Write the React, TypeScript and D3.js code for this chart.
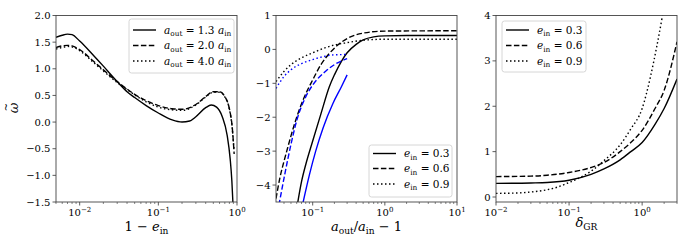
import React from "react";
import * as d3 from "d3";

// ---- panel 1: omega tilde vs 1 - e_in ----
const p1SolidX = [0.005, 0.006, 0.007, 0.008, 0.01, 0.015, 0.02, 0.03, 0.04, 0.05, 0.07, 0.1, 0.15, 0.2, 0.25, 0.3, 0.4, 0.47, 0.55, 0.65, 0.75, 0.82, 0.86, 0.89];
const p1SolidY = [1.59, 1.63, 1.65, 1.64, 1.52, 1.25, 1.05, 0.76, 0.57, 0.46, 0.31, 0.17, 0.04, 0.0, 0.02, 0.1, 0.27, 0.32, 0.28, 0.1, -0.25, -0.7, -1.1, -1.55];
const p1DashX = [0.005, 0.006, 0.007, 0.008, 0.01, 0.015, 0.02, 0.03, 0.04, 0.05, 0.07, 0.1, 0.15, 0.2, 0.3, 0.4, 0.5, 0.6, 0.7, 0.8, 0.87, 0.92];
const p1DashY = [1.4, 1.43, 1.44, 1.43, 1.36, 1.14, 0.98, 0.76, 0.62, 0.52, 0.4, 0.31, 0.25, 0.24, 0.33, 0.48, 0.57, 0.57, 0.48, 0.25, -0.1, -0.6];
const p1DotY = [1.37, 1.4, 1.42, 1.41, 1.34, 1.12, 0.96, 0.74, 0.61, 0.51, 0.38, 0.28, 0.23, 0.22, 0.32, 0.47, 0.56, 0.56, 0.47, 0.24, -0.12, -0.55];
const p1Labels = ["1.3", "2.0", "4.0"];
const p1YTicks = [-1.5, -1.0, -0.5, 0.0, 0.5, 1.0, 1.5, 2.0];
const p1XTicks = [-2, -1, 0];

// ---- panel 2: omega tilde vs a_out/a_in - 1 ----
const p2SolidX = [0.06, 0.07, 0.08, 0.1, 0.13, 0.17, 0.2, 0.25, 0.3, 0.4, 0.5, 0.7, 1, 2, 10];
const p2SolidY = [-4.7, -3.9, -3.4, -2.7, -1.9, -1.1, -0.75, -0.35, -0.1, 0.15, 0.28, 0.37, 0.4, 0.41, 0.41];
const p2DashX = [0.031, 0.035, 0.04, 0.045, 0.05, 0.06, 0.075, 0.1, 0.13, 0.17, 0.22, 0.3, 0.5, 1, 10];
const p2DashY = [-4.4, -3.8, -3.3, -2.9, -2.55, -2.0, -1.45, -0.9, -0.45, -0.12, 0.12, 0.32, 0.48, 0.54, 0.55];
const p2DotX = [0.031, 0.04, 0.05, 0.07, 0.1, 0.15, 0.2, 0.3, 0.5, 1, 10];
const p2DotY = [-0.95, -0.65, -0.45, -0.25, -0.1, 0.05, 0.13, 0.2, 0.27, 0.3, 0.3];
const p2BlueSolidX = [0.072, 0.09, 0.11, 0.14, 0.19, 0.25, 0.3];
const p2BlueSolidY = [-4.6, -3.7, -3.0, -2.3, -1.6, -1.1, -0.75];
const p2BlueDashX = [0.034, 0.04, 0.05, 0.06, 0.08, 0.1, 0.15, 0.2, 0.3];
const p2BlueDashY = [-4.6, -3.8, -2.8, -2.1, -1.4, -1.05, -0.65, -0.45, -0.27];
const p2BlueDotX = [0.031, 0.04, 0.05, 0.07, 0.1, 0.15, 0.2, 0.3];
const p2BlueDotY = [-1.15, -0.8, -0.6, -0.42, -0.3, -0.2, -0.16, -0.15];
const eccLabels = ["0.3", "0.6", "0.9"];
const p2YTicks = [-4, -3, -2, -1, 0, 1];
const p2XTicks = [-1, 0, 1];

// ---- panel 3: omega tilde vs delta_GR ----
const p3SolidX = [0.01, 0.03, 0.05, 0.1, 0.2, 0.3, 0.5, 0.7, 1, 1.5, 2, 3];
const p3SolidY = [0.3, 0.31, 0.32, 0.37, 0.5, 0.62, 0.82, 1.0, 1.2, 1.6, 1.95, 2.6];
const p3DashY = [0.45, 0.46, 0.48, 0.54, 0.65, 0.76, 1.0, 1.2, 1.47, 1.95, 2.35, 3.42];
const p3DotX = [0.01, 0.02, 0.03, 0.05, 0.07, 0.1, 0.15, 0.2, 0.3, 0.5, 0.7, 1, 1.3, 1.6, 1.9, 2.1];
const p3DotY = [0.08, 0.09, 0.11, 0.16, 0.22, 0.32, 0.45, 0.57, 0.8, 1.15, 1.5, 1.95, 2.65, 3.35, 4.0, 4.4];
const p3YTicks = [0, 1, 2, 3, 4];
const p3XTicks = [-2, -1, 0];

const FONT = "DejaVu Serif";
const TOP = 15.5;
const BOTTOM = 202;
const DASH: Record<string, string> = { solid: "none", dashed: "5.5,2.4", dotted: "1.5,2.5" };

type Seg = { t: string; i?: boolean; sub?: boolean };

function MathText({ x, y, segs, size, anchor = "start", transform }: { x: number; y: number; segs: Seg[]; size: number; anchor?: string; transform?: string }) {
  let inSub = false;
  return (
    <text x={x} y={y} textAnchor={anchor} transform={transform} style={{ whiteSpace: "pre", fontFamily: FONT, fontSize: size }} fill="#000">
      {segs.map((s, k) => {
        let dy = 0;
        if (s.sub && !inSub) dy = size * 0.25;
        if (!s.sub && inSub) dy = -size * 0.25;
        inSub = !!s.sub;
        return (
          <tspan key={k} dy={dy} style={{ fontStyle: s.i ? "italic" : "normal", fontSize: s.sub ? size * 0.7 : size }}>
            {s.t}
          </tspan>
        );
      })}
    </text>
  );
}

type Series = { xs: number[]; ys: number[]; style: string; color: string };

function Panel({ id, x0, x1, xDomain, yDomain, yTicks, yFmt, xTicks, series, legend, legendBox, xlabel, xlabelY }: any) {
  const xs = d3.scaleLog().domain(xDomain).range([x0, x1]);
  const ys = d3.scaleLinear().domain(yDomain).range([BOTTOM, TOP]);
  const line = d3
    .line<[number, number]>()
    .x((d) => xs(d[0]))
    .y((d) => ys(d[1]))
    .curve(d3.curveMonotoneX);

  const minor: number[] = [];
  for (let p = -3; p <= 1; p++) {
    for (let k = 2; k <= 9; k++) {
      const v = k * Math.pow(10, p);
      if (v >= xDomain[0] && v <= xDomain[1]) minor.push(v);
    }
  }

  const [bx, by, bw, bh, rows] = legendBox;
  return (
    <g>
      <defs>
        <clipPath id={id}>
          <rect x={x0} y={TOP} width={x1 - x0} height={BOTTOM - TOP} />
        </clipPath>
      </defs>
      <g clipPath={`url(#${id})`}>
        {series.map((s: Series, k: number) => (
          <path
            key={k}
            d={line(s.xs.map((v, j) => [v, s.ys[j]]) as [number, number][]) || ""}
            fill="none"
            stroke={s.color}
            strokeWidth={1.4}
            strokeDasharray={DASH[s.style]}
          />
        ))}
      </g>
      {/* minor ticks */}
      {minor.map((v) => (
        <line key={"m" + v} x1={xs(v)} x2={xs(v)} y1={BOTTOM} y2={BOTTOM + 2} stroke="#333" strokeWidth={0.6} />
      ))}
      {xTicks.map((p: number) => (
        <g key={"x" + p}>
          <line x1={xs(Math.pow(10, p))} x2={xs(Math.pow(10, p))} y1={BOTTOM} y2={BOTTOM + 3.5} stroke="#333" strokeWidth={0.8} />
          <text x={xs(Math.pow(10, p))} y={BOTTOM + 14} textAnchor="middle" style={{ fontFamily: FONT, fontSize: 10 }}>
            10
            <tspan dy={-4.5} style={{ fontSize: 7 }}>
              {p < 0 ? "\u2212" + Math.abs(p) : String(p)}
            </tspan>
          </text>
        </g>
      ))}
      {yTicks.map((v: number) => (
        <g key={"y" + v}>
          <line x1={x0 - 3.5} x2={x0} y1={ys(v)} y2={ys(v)} stroke="#333" strokeWidth={0.8} />
          <text x={x0 - 5.5} y={ys(v)} dy="0.35em" textAnchor="end" style={{ fontFamily: FONT, fontSize: 10 }}>
            {yFmt(v)}
          </text>
        </g>
      ))}
      <rect x={x0} y={TOP} width={x1 - x0} height={BOTTOM - TOP} fill="none" stroke="#444" strokeWidth={0.9} />
      {/* legend */}
      <rect x={bx} y={by} width={bw} height={bh} rx={2.5} fill="#fff" fillOpacity={0.8} stroke="#ccc" strokeWidth={0.8} />
      {legend.map((l: any, k: number) => (
        <g key={"l" + k}>
          <line x1={bx + 4} x2={bx + 27} y1={rows[k]} y2={rows[k]} stroke="#000" strokeWidth={1.4} strokeDasharray={DASH[l.style]} />
          <MathText x={bx + 35} y={rows[k] + 3.5} segs={l.segs} size={10.5} />
        </g>
      ))}
      <MathText x={(x0 + x1) / 2} y={xlabelY} segs={xlabel} size={13} anchor="middle" />
    </g>
  );
}

export default function App() {
  const styles = ["solid", "dashed", "dotted"];
  const eccLegend = eccLabels.map((v, k) => ({
    style: styles[k],
    segs: [{ t: "e", i: true }, { t: "in", sub: true }, { t: " = " + v }],
  }));
  const aLegend = p1Labels.map((v, k) => ({
    style: styles[k],
    segs: [{ t: "a", i: true }, { t: "out", sub: true }, { t: " = " + v + " " }, { t: "a", i: true }, { t: "in", sub: true }],
  }));
  const fmt1 = (v: number) => (v < 0 ? "\u2212" : "") + Math.abs(v).toFixed(1);
  const fmt0 = (v: number) => (v < 0 ? "\u2212" : "") + Math.abs(v).toFixed(0);

  return (
    <svg width={690} height={249} style={{ position: "absolute", left: 0, top: 0, background: "#fff" }}>
      <Panel
        id="c1"
        x0={56}
        x1={237}
        xDomain={[0.005, 1]}
        yDomain={[-1.5, 2]}
        yTicks={p1YTicks}
        yFmt={fmt1}
        xTicks={p1XTicks}
        series={[
          { xs: p1SolidX, ys: p1SolidY, style: "solid", color: "#000" },
          { xs: p1DashX, ys: p1DashY, style: "dashed", color: "#000" },
          { xs: p1DashX, ys: p1DotY, style: "dotted", color: "#000" },
        ]}
        legend={aLegend}
        legendBox={[129, 19, 105, 54, [30, 45.5, 61]]}
        xlabel={[{ t: "1 \u2212 " }, { t: "e", i: true }, { t: "in", sub: true }]}
        xlabelY={231}
      />
      <Panel
        id="c2"
        x0={276}
        x1={457}
        xDomain={[0.031, 10]}
        yDomain={[-4.5, 1]}
        yTicks={p2YTicks}
        yFmt={fmt0}
        xTicks={p2XTicks}
        series={[
          { xs: p2SolidX, ys: p2SolidY, style: "solid", color: "#000" },
          { xs: p2DashX, ys: p2DashY, style: "dashed", color: "#000" },
          { xs: p2DotX, ys: p2DotY, style: "dotted", color: "#000" },
          { xs: p2BlueSolidX, ys: p2BlueSolidY, style: "solid", color: "#0000ff" },
          { xs: p2BlueDashX, ys: p2BlueDashY, style: "dashed", color: "#0000ff" },
          { xs: p2BlueDotX, ys: p2BlueDotY, style: "dotted", color: "#0000ff" },
        ]}
        legend={eccLegend}
        legendBox={[369, 145, 83, 52, [153.5, 168.5, 184]]}
        xlabel={[{ t: "a", i: true }, { t: "out", sub: true }, { t: "/" }, { t: "a", i: true }, { t: "in", sub: true }, { t: " \u2212 1" }]}
        xlabelY={231}
      />
      <Panel
        id="c3"
        x0={496}
        x1={677}
        xDomain={[0.01, 3]}
        yDomain={[-0.11, 4]}
        yTicks={p3YTicks}
        yFmt={fmt0}
        xTicks={p3XTicks}
        series={[
          { xs: p3SolidX, ys: p3SolidY, style: "solid", color: "#000" },
          { xs: p3SolidX, ys: p3DashY, style: "dashed", color: "#000" },
          { xs: p3DotX, ys: p3DotY, style: "dotted", color: "#000" },
        ]}
        legend={eccLegend}
        legendBox={[502, 21, 84, 51, [30, 45.5, 61]]}
        xlabel={[{ t: "\u03b4", i: true }, { t: "GR", sub: true }]}
        xlabelY={227}
      />
      <g transform="translate(18,108) rotate(-90)">
        <text x={0} y={0} textAnchor="middle" style={{ fontFamily: FONT, fontSize: 13, fontStyle: "italic" }}>
          {"\u03c9"}
        </text>
        <text x={1} y={-9} textAnchor="middle" style={{ fontFamily: FONT, fontSize: 10 }}>
          {"~"}
        </text>
      </g>
    </svg>
  );
}
